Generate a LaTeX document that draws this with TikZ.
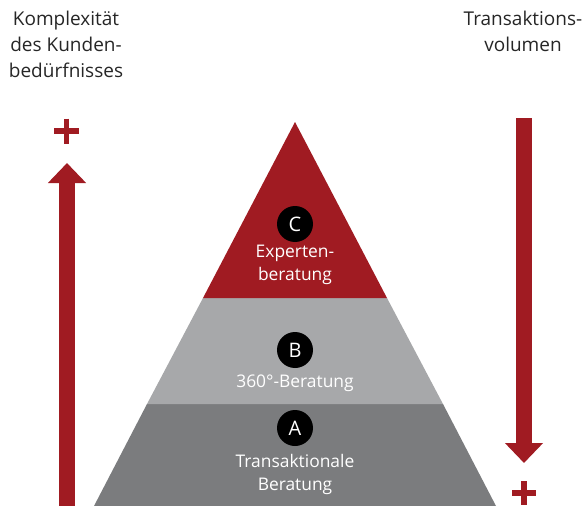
\documentclass[tikz,border=0pt]{standalone}
\usepackage{fontspec}
\setmainfont{Open Sans}
\usepackage{xcolor}
\usetikzlibrary{arrows.meta}
\definecolor{bankred}{HTML}{A01B22}
\definecolor{lightgrey}{HTML}{A7A8AA}
\definecolor{darkgrey}{HTML}{7B7C7E}
\tikzset{
    step-circle/.style = {circle, fill=black, text=white, minimum size=36pt, inner sep=0pt, font=\fontsize{20}{20}\selectfont},
    layer-label/.style = {text=white, align=center, font=\fontsize{17.4}{23}\selectfont},
    side-label/.style = {text=black!85, align=center, font=\fontsize{19}{26}\selectfont},
    big-arrow/.style = {bankred, line width=16pt, -{Triangle[width=37pt,length=20pt]}},
    plus-sign/.style = {bankred, line width=5.5pt},
}

\begin{document}
\begin{tikzpicture}[x=1pt, y=-1pt]
\useasboundingbox (0,0) rectangle (582,506);

% pyramid
\coordinate (apex) at (295,122);
\fill[darkgrey] (147,404) -- (443,404) -- (496,506) -- (94,506) -- cycle;
\fill[lightgrey] (203,298) -- (387,298) -- (443,404) -- (147,404) -- cycle;
\fill[bankred] (apex) -- (387,298) -- (203,298) -- cycle;

\node[step-circle] (step-c) at (295,224) {C};
\node[layer-label] (label-c) at (295,265) {Experten-\\beratung};
\node[step-circle] (step-b) at (295,350) {B};
\node[layer-label] (label-b) at (295,383) {360°-Beratung};
\node[step-circle] (step-a) at (295,428) {A};
\node[layer-label] (label-a) at (295,474) {Transaktionale\\Beratung};

% side texts
\node[side-label] (complexity) at (66,44) {Komplexität\\des Kunden-\\bedürfnisses};
\node[side-label] (volume) at (523,31) {Transaktions-\\volumen};

% arrows
\coordinate (left-start) at (67,506);
\coordinate (left-end) at (67,163);
\draw[big-arrow] (left-start) -- (left-end);
\coordinate (right-start) at (524,118);
\coordinate (right-end) at (524,463);
\draw[big-arrow] (right-start) -- (right-end);

% plus signs
\draw[plus-sign] (54,131) -- (79,131) (66.5,118.5) -- (66.5,143.5);
\draw[plus-sign] (512,493) -- (536,493) (524,481) -- (524,505);
\end{tikzpicture}
\end{document}
